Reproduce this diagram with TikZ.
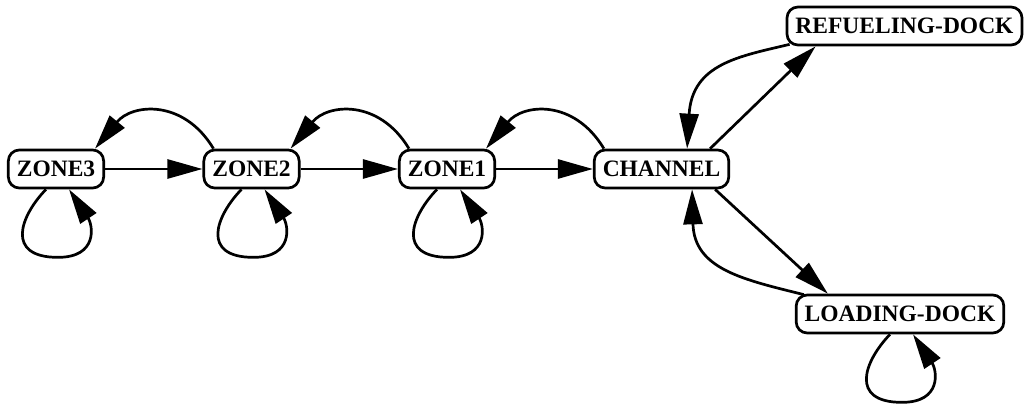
\documentclass[tikz,border=0pt]{standalone}
\usepackage{fontspec}
\setmainfont{Liberation Serif}
\usetikzlibrary{arrows.meta,calc}
% teardrop loop hanging under a state
\newcommand\stateloop[1]{%
  \draw[edge] ($(#1.south)+(-10,0)$) .. controls +(-26,27) and +(-53,0) ..
    ($(#1.south)+(2,68)$) .. controls +(40,0) and +(24,36) .. ($(#1.south)+(13,0)$);}
% arc from the top of one state back to the previous one
\newcommand\backarc[2]{%
  \draw[edge] ([xshift=11pt]#1.north west) .. controls +(-30,-50) and +(37,-45) ..
    ([xshift=-10pt]#2.north east);}
\begin{document}
\begin{tikzpicture}[x=1pt,y=-1pt,
  state/.style={draw,line width=2.7pt,rounded corners=11pt,minimum height=38pt,
    inner xsep=8.5pt,inner ysep=0pt,font=\fontsize{23.5}{27}\selectfont\bfseries},
  edge/.style={line width=2.7pt,-{Triangle[length=35pt,width=19pt]}}]
\useasboundingbox (0,0) rectangle (1026,404);

\node[state] (z3) at (56,169) {ZONE3};
\node[state] (z2) at (251.5,169) {ZONE2};
\node[state] (z1) at (447,169) {ZONE1};
\node[state] (ch) at (661.5,169) {CHANNEL};
\node[state] (rd) at (904.5,26) {REFUELING-DOCK};
\node[state] (ld) at (900,314) {LOADING-DOCK};

% forward chain
\draw[edge] (z3.east) -- (z2.west);
\draw[edge] (z2.east) -- (z1.west);
\draw[edge] (z1.east) -- (ch.west);

% backward arcs
\backarc{z2}{z3}
\backarc{z1}{z2}
\backarc{ch}{z1}

% self loops
\stateloop{z3}
\stateloop{z2}
\stateloop{z1}
\stateloop{ld}

% channel and docks
\draw[edge] ([xshift=-20pt]ch.north east) -- ([xshift=30pt]rd.south west);
\draw[edge] ([shift={(4,-2)}]rd.south west) .. controls +(-50,12) and +(5,-85) ..
  ([xshift=-43pt]ch.north east);
\draw[edge] ([xshift=-15pt]ch.south east) -- ([xshift=33pt]ld.north west);
\draw[edge] ([shift={(9,1)}]ld.north west) .. controls +(-60,-15) and +(2,80) ..
  ([xshift=-38pt]ch.south east);
\end{tikzpicture}
\end{document}
